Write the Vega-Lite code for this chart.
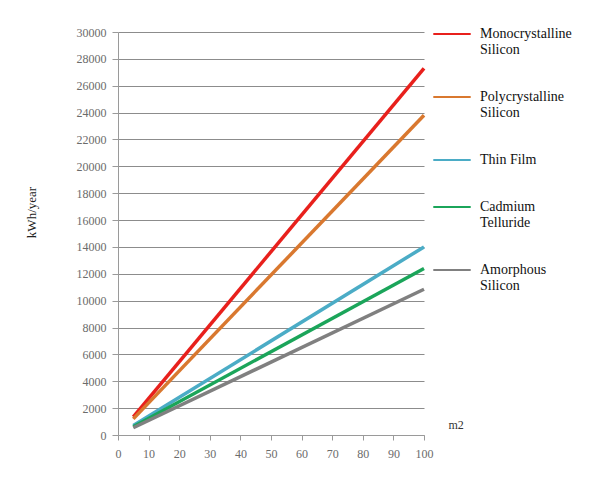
{
  "$schema": "https://vega.github.io/schema/vega-lite/v6.json",
  "width": 306,
  "height": 403,
  "autosize": "none",
  "padding": {"left": 118, "top": 32, "right": 176, "bottom": 61},
  "background": "#ffffff",
  "config": {
    "view": {"stroke": null},
    "font": "Liberation Serif"
  },
  "data": {
    "values": [
      {"area": 5, "kwh": 1350, "type": "Monocrystalline Silicon"},
      {"area": 100, "kwh": 27300, "type": "Monocrystalline Silicon"},
      {"area": 5, "kwh": 1200, "type": "Polycrystalline Silicon"},
      {"area": 100, "kwh": 23800, "type": "Polycrystalline Silicon"},
      {"area": 5, "kwh": 700, "type": "Thin Film"},
      {"area": 100, "kwh": 14000, "type": "Thin Film"},
      {"area": 5, "kwh": 620, "type": "Cadmium Telluride"},
      {"area": 100, "kwh": 12400, "type": "Cadmium Telluride"},
      {"area": 5, "kwh": 540, "type": "Amorphous Silicon"},
      {"area": 100, "kwh": 10850, "type": "Amorphous Silicon"}
    ]
  },
  "mark": {"type": "line", "strokeWidth": 3.5},
  "encoding": {
    "x": {
      "field": "area",
      "type": "quantitative",
      "scale": {"domain": [0, 100], "nice": false},
      "axis": {
        "values": [0, 10, 20, 30, 40, 50, 60, 70, 80, 90, 100],
        "grid": false,
        "domainColor": "#9a9a9a",
        "tickColor": "#9a9a9a",
        "tickSize": 5,
        "labelColor": "#6b6b6b",
        "labelFontSize": 12,
        "labelPadding": 8,
        "labelFlush": false,
        "title": "m2",
        "titleFont": "Liberation Serif",
        "titleFontWeight": "normal",
        "titleFontSize": 12,
        "titleColor": "#333333",
        "titleAnchor": "start",
        "titleX": 330,
        "titleY": -16,
        "titleAlign": "left"
      }
    },
    "y": {
      "field": "kwh",
      "type": "quantitative",
      "scale": {"domain": [0, 30000], "nice": false},
      "axis": {
        "values": [0, 2000, 4000, 6000, 8000, 10000, 12000, 14000, 16000, 18000, 20000, 22000, 24000, 26000, 28000, 30000],
        "format": "d",
        "grid": true,
        "gridColor": "#8c8c8c",
        "gridWidth": 1,
        "domainColor": "#9a9a9a",
        "tickColor": "#9a9a9a",
        "tickSize": 6,
        "labelColor": "#6b6b6b",
        "labelFontSize": 12,
        "labelPadding": 6,
        "title": "kWh/year",
        "titleFont": "Liberation Serif",
        "titleFontWeight": "normal",
        "titleFontSize": 13,
        "titleColor": "#222222",
        "titleX": -80,
        "titleY": 180
      }
    },
    "color": {
      "field": "type",
      "type": "nominal",
      "sort": ["Monocrystalline Silicon", "Polycrystalline Silicon", "Thin Film", "Cadmium Telluride", "Amorphous Silicon"],
      "scale": {
        "domain": ["Monocrystalline Silicon", "Polycrystalline Silicon", "Thin Film", "Cadmium Telluride", "Amorphous Silicon"],
        "range": ["#e8201c", "#d9782f", "#4bacc6", "#1ba55a", "#808080"]
      },
      "legend": {
        "orient": "none",
        "legendX": 314,
        "legendY": -18,
        "title": null,
        "symbolType": "stroke",
        "symbolSize": 1400,
        "symbolStrokeWidth": 2,
        "labelFont": "Liberation Serif",
        "labelFontSize": 14,
        "labelColor": "#111111",
        "labelLimit": 200,
        "labelOffset": 8,
        "rowPadding": 20,
        "labelExpr": "datum.label == 'Thin Film' ? datum.label : split(datum.label, ' ')"
      }
    }
  }
}
